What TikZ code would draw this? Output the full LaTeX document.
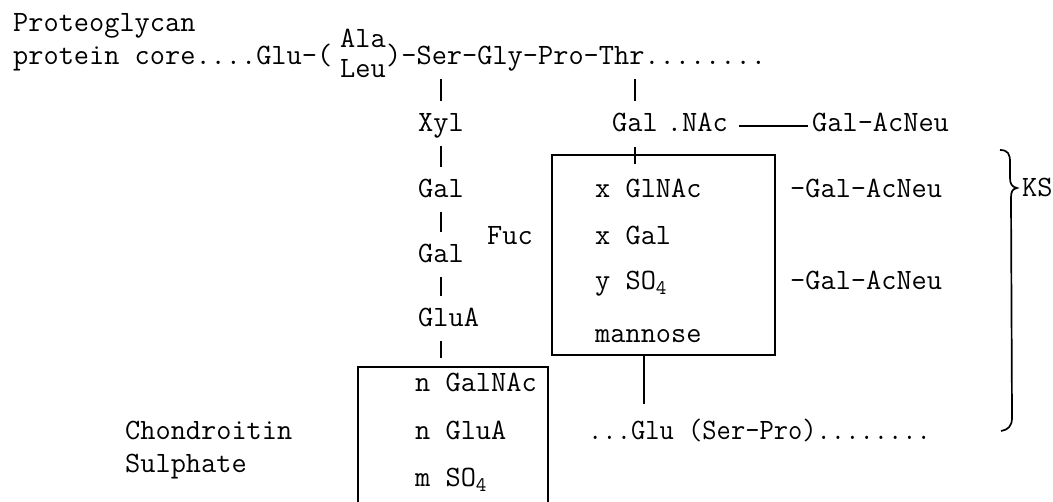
\documentclass[tikz,border=0pt]{standalone}
\usepackage{fontspec}
\usetikzlibrary{calc}
\newcommand{\mytt}{\ttfamily\fontsize{29.5}{30}\selectfont\addfontfeatures{FakeBold=1.5}}
\begin{document}
\begin{tikzpicture}[x=1pt,y=-1pt,
  lbl/.style={font=\mytt, inner sep=0pt, anchor=base west, text height=18pt, text depth=6pt},
  sml/.style={font=\mytt, inner sep=0pt, anchor=base west},
  bond/.style={line width=1.6pt},
  tick/.style={bond, shorten <=8pt, shorten >=13pt},
  frame/.style={line width=1.8pt}]
\useasboundingbox (0,0) rectangle (1053,502);
% top chain
\node[lbl] (pg) at (13,32) {Proteoglycan};
\node[lbl] (pc) at (13,65) {protein core....Glu-(};
\node[sml] (ala) at (340,48) {Ala};
\node[sml] (leu) at (340,78) {Leu};
\node[lbl] (chain) at (386,65) {)-Ser-Gly-Pro-Thr........};
% chondroitin sulphate branch
\node[lbl] (xyl) at (418,132) {Xyl};
\node[lbl] (gal1) at (418,198) {Gal};
\node[lbl] (gal2) at (418,263) {Gal};
\node[lbl] (fuc) at (487,245) {Fuc};
\node[lbl] (glua) at (418,327) {GluA};
% keratan sulphate branch
\node[lbl] (galnac) at (612,132) {Gal\hspace{-6pt} .NAc};
\node[lbl] (gan1) at (812,132) {Gal-AcNeu};
\node[draw, frame, minimum width=223pt, minimum height=200pt, inner sep=0pt] (ksbox) at (663.5,255) {};
\node[lbl] (glnac) at (595,198) {x GlNAc};
\node[lbl] (xgal) at (595,245) {x Gal};
\node[lbl] (yso) at (595,290) {y SO\textsubscript{4}};
\node[lbl] (man) at (595,343) {mannose};
\node[lbl] (gan2) at (790,198) {-Gal-AcNeu};
\node[lbl] (gan3) at (790,290) {-Gal-AcNeu};
\node[lbl] (ks) at (1022,197) {KS};
\node[lbl] (glu2) at (588,440) {\scalebox{0.94}[1]{...Glu (Ser-Pro)........}};
% chondroitin box
\node[lbl] (ng) at (415,392) {n GalNAc};
\node[lbl] (ngl) at (415,440) {n GluA};
\node[lbl] (mso) at (415,487) {m SO\textsubscript{4}};
\node[lbl] (ch) at (125,440) {Chondroitin};
\node[lbl] (su) at (125,473) {Sulphate};
\draw[frame] (358,502) -- (358,367) -- (548,367) -- (548,502);
\coordinate (cstop) at (441,367);
% ticks
\draw[tick] (chain.south -| xyl) -- (xyl.north);
\draw[tick] (xyl.south) -- (gal1.north);
\draw[tick] (gal1.south) -- (gal2.north);
\draw[tick] (gal2.south) -- (glua.north -| gal2);
\draw[tick, shorten >=9pt] (glua.south -| xyl) -- (cstop -| xyl);
\coordinate (galx) at ([xshift=23pt]galnac.north west);
\draw[tick] (chain.south -| galx) -- (galx);
\draw[bond, shorten <=9pt, shorten >=-10pt] (galnac.south -| galx) -- (ksbox.north -| galx);
\coordinate (manx) at ([xshift=-19.5pt]ksbox.south);
\draw[bond, shorten >=18pt] (manx) -- (glu2.north -| manx);
\draw[line width=1.3pt, shorten <=11pt, shorten >=4pt] (galnac.east) -- (gan1.west);
% brace
\draw[line width=1.7pt] (1000,150) .. controls (1008,150) and (1010,154) .. (1010,162)
  -- (1010,178) .. controls (1010,184) and (1012,187) .. (1017,188)
  .. controls (1012,189) and (1011,192) .. (1011,198)
  -- (1012,418) .. controls (1012,426) and (1008,430) .. (1001,431);
\end{tikzpicture}
\end{document}
